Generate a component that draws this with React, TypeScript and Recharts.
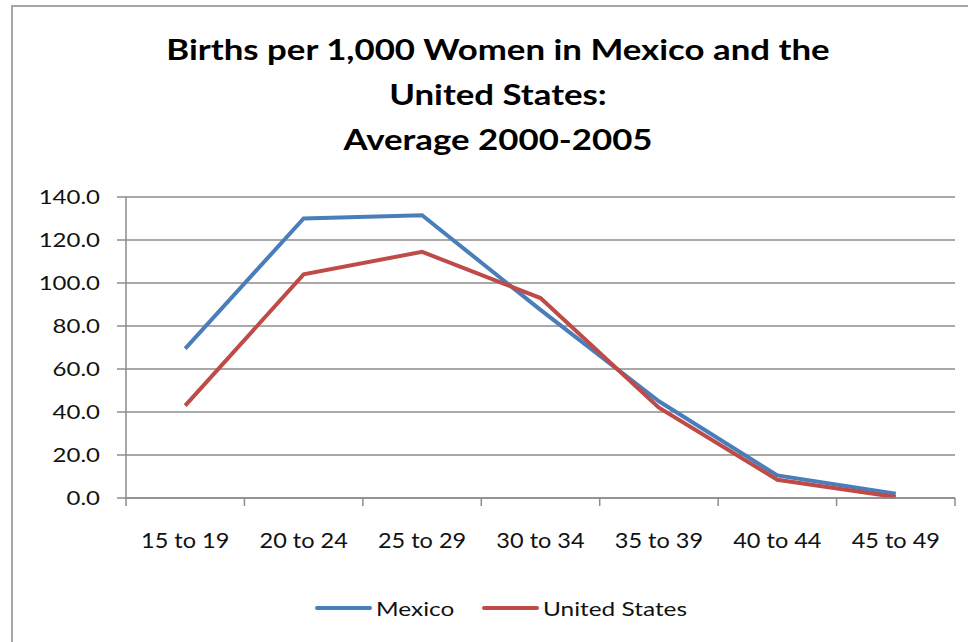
import { LineChart, Line, XAxis, YAxis, CartesianGrid } from "recharts";

const ageGroups = ["15 to 19", "20 to 24", "25 to 29", "30 to 34", "35 to 39", "40 to 44", "45 to 49"];
const mexico = [69.5, 130, 131.5, 87.5, 45, 10.5, 2];
const unitedStates = [43, 104, 114.5, 93, 42, 8.5, 0.5];
const yTicks = [0, 20, 40, 60, 80, 100, 120, 140];

const seriesList = [
  { key: "Mexico", color: "#4a7ebb", lineX: 315, textX: 376 },
  { key: "United States", color: "#be4b48", lineX: 482, textX: 543 },
];

const data = ageGroups.map((g, i) => ({ name: g, Mexico: mexico[i], "United States": unitedStates[i] }));

const FONT = "Lato, 'Open Sans', sans-serif";
const W = 968;
const H = 642;
const Y_W = 126;
const M_RIGHT = 13;
const BAND = (W - Y_W - M_RIGHT) / ageGroups.length;
const GRID = "#8c8c8c";

const XTick = ({ x, y, payload, index }: any) => (
  <g>
    <line x1={x - BAND / 2} x2={x - BAND / 2} y1={y} y2={y + 8} stroke={GRID} strokeWidth={1.5} />
    {index === ageGroups.length - 1 && (
      <line x1={x + BAND / 2} x2={x + BAND / 2} y1={y} y2={y + 8} stroke={GRID} strokeWidth={1.5} />
    )}
    <text
      transform={`translate(${x},${y + 50}) scale(1.12,1)`}
      textAnchor="middle"
      fontSize={21}
      fill="#111"
      fontFamily={FONT}
    >
      {payload.value}
    </text>
  </g>
);

const YTick = ({ x, y, payload }: any) => (
  <text
    transform={`translate(${x},${y}) scale(1.2,1)`}
    textAnchor="end"
    dy="0.36em"
    fontSize={20}
    fill="#111"
    fontFamily={FONT}
  >
    {Number(payload.value).toFixed(1)}
  </text>
);

export default function App() {
  return (
    <div
      style={{
        position: "absolute",
        left: 0,
        top: 0,
        width: W,
        height: H,
        overflow: "hidden",
        background: "#fff",
        fontFamily: FONT,
      }}
    >
      <div
        style={{
          position: "absolute",
          left: 11,
          top: 5,
          width: 1000,
          height: 700,
          border: "2.5px solid #a6a6a6",
        }}
      />
      <div
        style={{
          position: "absolute",
          left: 0,
          width: 996,
          top: 26,
          textAlign: "center",
          fontWeight: 700,
          fontSize: 29,
          lineHeight: "45px",
          color: "#000",
          transform: "scaleX(1.2)",
        }}
      >
        Births per 1,000 Women in Mexico and the
        <br />
        United States:
        <br />
        Average 2000-2005
      </div>
      <div style={{ position: "absolute", left: 0, top: 0 }}>
        <LineChart width={W} height={H} data={data} margin={{ top: 197, right: M_RIGHT, bottom: 84, left: 0 }}>
          <CartesianGrid vertical={false} stroke={GRID} strokeWidth={1.5} />
          <XAxis
            dataKey="name"
            scale="band"
            height={60}
            tickLine={false}
            tickSize={0}
            tickMargin={0}
            axisLine={{ stroke: GRID, strokeWidth: 1.5 }}
            tick={<XTick />}
            interval={0}
          />
          <YAxis
            width={Y_W}
            domain={[0, 140]}
            ticks={yTicks}
            tickSize={9}
            tickMargin={17}
            tickLine={{ stroke: GRID, strokeWidth: 1.5 }}
            axisLine={{ stroke: GRID, strokeWidth: 1.5 }}
            tick={<YTick />}
          />
          {seriesList.map((s) => (
            <Line key={s.key} dataKey={s.key} stroke={s.color} strokeWidth={4} dot={false} isAnimationActive={false} />
          ))}
        </LineChart>
      </div>
      {seriesList.map((s) => (
        <div key={s.key}>
          <div
            style={{
              position: "absolute",
              left: s.lineX,
              top: 606,
              width: 57,
              height: 4,
              background: s.color,
              borderRadius: 2,
            }}
          />
          <div
            style={{
              position: "absolute",
              left: s.textX,
              top: 595,
              fontSize: 20,
              lineHeight: "26px",
              color: "#111",
              whiteSpace: "nowrap",
              transform: "scaleX(1.22)",
              transformOrigin: "left center",
            }}
          >
            {s.key}
          </div>
        </div>
      ))}
    </div>
  );
}
